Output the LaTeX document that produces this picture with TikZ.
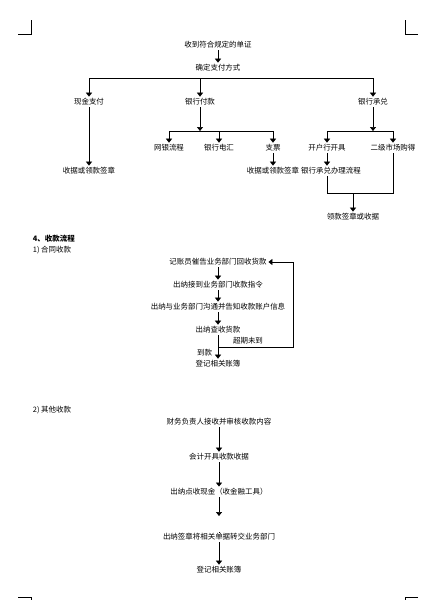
\documentclass[tikz,border=0pt]{standalone}
\usepackage{fontspec}
\setmainfont{Noto Sans CJK SC}
\usetikzlibrary{arrows.meta}

\begin{document}
\begin{tikzpicture}[x=0.75pt,y=0.75pt,yscale=-1,xscale=1,
    txt/.style={inner sep=1.2pt,font=\fontsize{5.6}{6.5}\selectfont},
    arr/.style={-{Triangle[width=4.6pt,length=3pt]}},
    line width=0.45pt]

            \useasboundingbox (0,0) rectangle (436,600);

            % Crop marks
            \draw (18,34) -- (31,34) -- (31,20);
            \draw (418,34) -- (405,34) -- (405,20);
            \draw (18,597) -- (31,597) -- (31,605);
            \draw (418,597) -- (405,597) -- (405,605);

            % Payment
            \node [txt] (doc) at (218,45) {收到符合规定的单证};
            \node [txt] (way) at (218,68) {确定支付方式};
            \draw [arr] (doc) -- (way);

            \draw (89,78) -- (373,78);
            \node [txt] (cash) at (89,102) {现金支付};
            \node [txt] (bank) at (200,102) {银行付款};
            \node [txt] (accept) at (373,102) {银行承兑};
            \draw [arr] (89,78) -- (cash);
            \draw [arr] (200,78) -- (bank);
            \draw [arr] (373,78) -- (accept);

            \node [txt] (cashsign) at (89,171) {收据或领款签章};
            \draw [arr] (cash) -- (cashsign);

            \draw [arr] (bank) -- (200,131);
            \draw (169,131) -- (273,131);
            \node [txt] (online) at (169,148) {网银流程};
            \node [txt] (wire) at (219,148) {银行电汇};
            \node [txt] (cheque) at (273,148) {支票};
            \draw [arr] (169,131) -- (online);
            \draw [arr] (219,131) -- (wire);
            \draw [arr] (273,131) -- (cheque);
            \node [txt] (chequesign) at (273,171) {收据或领款签章};
            \draw [arr] (cheque) -- (chequesign);

            \draw [arr] (accept) -- (373,131);
            \draw (327,131) -- (393,131);
            \node [txt] (issue) at (327,148) {开户行开具};
            \node [txt] (market) at (393,148) {二级市场购得};
            \draw [arr] (327,131) -- (issue);
            \draw [arr] (393,131) -- (market);
            \node [txt] (handle) at (331,171) {银行承兑办理流程};
            \draw [arr] (issue) -- (issue |- handle.north);
            \draw (issue |- handle.south) -- (327,193) -- (393,193) -- (market);
            \node [txt] (sign) at (353,217) {领款签章或收据};
            \draw [arr] (353,193) -- (sign);

            % Receipts
            \node [txt,anchor=west,font=\fontsize{5.6}{6.5}\selectfont\bfseries] (recv) at (31,239) {4、收款流程};
            \node [txt,anchor=west] (contract) at (31,250) {1) 合同收款};

            \node [txt] (remind) at (218,262) {记账员催告业务部门回收货款};
            \node [txt] (order) at (218,285) {出纳接到业务部门收款指令};
            \node [txt] (inform) at (218,307) {出纳与业务部门沟通并告知收款账户信息};
            \node [txt] (check) at (218,330) {出纳查收货款};
            \node [txt] (record) at (218,364) {登记相关账簿};
            \draw [arr] (remind) -- (order);
            \draw [arr] (order) -- (inform);
            \draw [arr] (inform) -- (check);
            \draw [arr] (check) -- (record);
            \node [txt,anchor=east] (arrived) at (214,353) {到款};
            \draw [arr] (218,347) -- (293,347) -- (293,262) -- (remind);
            \node [txt] (overdue) at (248,341) {超期未到};

            \node [txt,anchor=west] (other) at (31,410) {2) 其他收款};

            \node [txt] (review) at (219,422) {财务负责人接收并审核收款内容};
            \node [txt] (voucher) at (219,457) {会计开具收款收据};
            \node [txt] (count) at (219,492) {出纳点收现金（收金融工具）};
            \node [txt] (hand) at (219,537) {出纳签章将相关单据转交业务部门};
            \node [txt] (book) at (219,570) {登记相关账簿};
            \draw [arr] (review) -- (voucher);
            \draw [arr] (voucher) -- (count);
            \draw [arr] (count) -- (219,516);
            \draw (219,532) -- (hand);
            \draw [arr] (hand) -- (book);

\end{tikzpicture}
\end{document}
